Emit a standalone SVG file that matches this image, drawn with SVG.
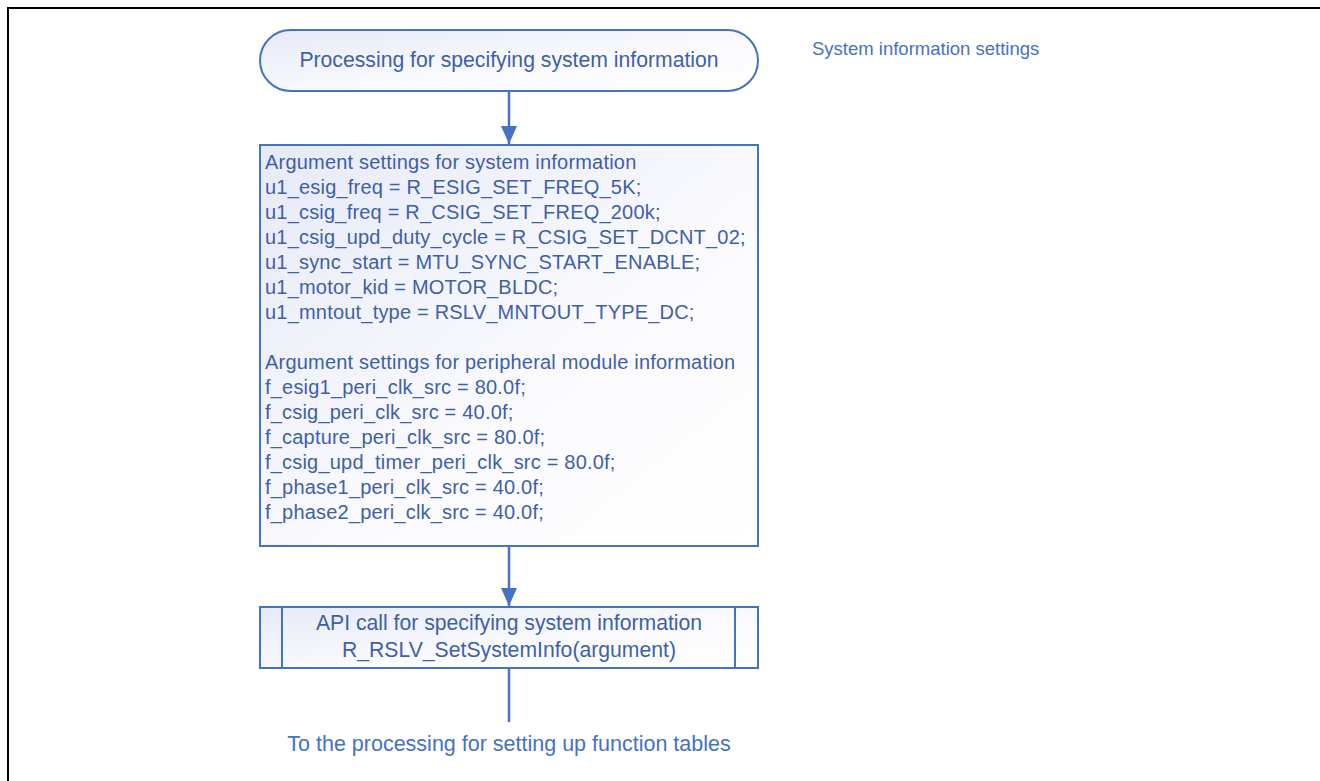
<svg xmlns="http://www.w3.org/2000/svg" width="1320" height="781" viewBox="0 0 1320 781">
<style>
.node{fill:url(#g);stroke:#4472C4;stroke-width:2}
.t{font-family:"Liberation Sans",Arial,sans-serif;fill:#3F5FAA;font-size:20px;letter-spacing:0.2px}
.c{text-anchor:middle}
.conn{stroke:#4472C4;stroke-width:2.5;fill:none}
</style>
<defs>
<linearGradient id="g" x1="0" y1="0" x2="1" y2="1">
<stop offset="0" stop-color="#E6EAF6"/>
<stop offset="0.6" stop-color="#FBFBFE"/>
<stop offset="1" stop-color="#FFFFFF"/>
</linearGradient>
<marker id="ah" viewBox="0 0 18 16" refX="18" refY="8" markerWidth="18" markerHeight="16" markerUnits="userSpaceOnUse" orient="auto">
<path d="M0,0 L18,8 L0,16 Z" fill="#4472C4"/>
</marker>
</defs>
<rect width="1320" height="781" fill="#FFFFFF"/>
<path d="M8,781 L8,8 L1320,8" fill="none" stroke="#000" stroke-width="2"/>
<g id="connectors">
<line class="conn" x1="509" y1="92" x2="509" y2="144" marker-end="url(#ah)"/>
<line class="conn" x1="509" y1="547" x2="509" y2="606" marker-end="url(#ah)"/>
<line class="conn" x1="509" y1="669" x2="509" y2="722"/>
</g>
<g id="start">
<rect class="node" x="260" y="30" width="498" height="61" rx="30.5" ry="30.5"/>
<text class="t c" x="509" y="67" style="font-size:21.2px;letter-spacing:0">Processing for specifying system information</text>
</g>
<g id="args">
<rect class="node" x="260" y="145" width="498" height="401"/>
<text class="t" x="265" y="169">Argument settings for system information</text>
<text class="t" x="265" y="194">u1_esig_freq = R_ESIG_SET_FREQ_5K;</text>
<text class="t" x="265" y="219">u1_csig_freq = R_CSIG_SET_FREQ_200k;</text>
<text class="t" x="265" y="244">u1_csig_upd_duty_cycle = R_CSIG_SET_DCNT_02;</text>
<text class="t" x="265" y="269">u1_sync_start = MTU_SYNC_START_ENABLE;</text>
<text class="t" x="265" y="294">u1_motor_kid = MOTOR_BLDC;</text>
<text class="t" x="265" y="319">u1_mntout_type = RSLV_MNTOUT_TYPE_DC;</text>
<text class="t" x="265" y="369">Argument settings for peripheral module information</text>
<text class="t" x="265" y="394">f_esig1_peri_clk_src = 80.0f;</text>
<text class="t" x="265" y="419">f_csig_peri_clk_src = 40.0f;</text>
<text class="t" x="265" y="444">f_capture_peri_clk_src = 80.0f;</text>
<text class="t" x="265" y="469">f_csig_upd_timer_peri_clk_src = 80.0f;</text>
<text class="t" x="265" y="494">f_phase1_peri_clk_src = 40.0f;</text>
<text class="t" x="265" y="519">f_phase2_peri_clk_src = 40.0f;</text>
</g>
<g id="api">
<rect class="node" x="260" y="607" width="498" height="61"/>
<line x1="282" y1="607" x2="282" y2="668" stroke="#4472C4" stroke-width="2"/>
<line x1="735" y1="607" x2="735" y2="668" stroke="#4472C4" stroke-width="2"/>
<text class="t c" x="509" y="630" style="font-size:21.2px;letter-spacing:0">API call for specifying system information</text>
<text class="t c" x="509" y="657" style="font-size:21.2px;letter-spacing:0">R_RSLV_SetSystemInfo(argument)</text>
</g>
<g id="next">
<text class="t c" x="509" y="751" style="font-size:21.5px;letter-spacing:0;fill:#4472C4">To the processing for setting up function tables</text>
</g>
<g id="note">
<text class="t" x="812" y="55" style="font-size:18.5px;letter-spacing:0;fill:#4472C4">System information settings</text>
</g>
</svg>
